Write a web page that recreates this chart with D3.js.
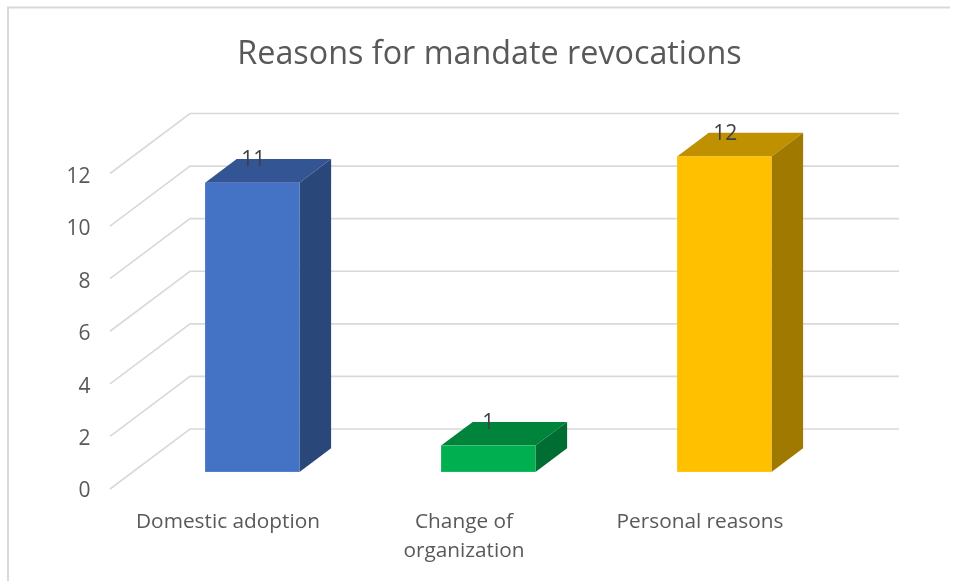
<!DOCTYPE html>
<html><head><meta charset="utf-8">
<script src="https://cdn.jsdelivr.net/npm/d3@7/dist/d3.min.js"></script>
<style>html,body{margin:0;padding:0;background:#fff}svg{display:block;filter:blur(0.45px)}text{font-family:"Open Sans",sans-serif}</style>
</head><body><svg id="c" width="957" height="581"></svg>
<script>
const title = "Reasons for mandate revocations";
const categories = ["Domestic adoption", "Change of organization", "Personal reasons"];
const categoryLines = [["Domestic adoption"], ["Change of", "organization"], ["Personal reasons"]];
const values = [11, 1, 12];
const frontColors = ["#4472c4", "#00b050", "#ffc000"];
const topColors = ["#335593", "#00843c", "#bf9000"];
const sideColors = ["#2a4779", "#006e32", "#a07a00"];
const yTicks = [0, 2, 4, 6, 8, 10, 12];

const svg = d3.select("#c");
// oblique projection: floor front edge to back wall
const depthX = 80, depthY = -60;
const x = d3.scaleBand().domain(categories).range([111.5, 819.5]).paddingInner(0.6).paddingOuter(0.3);
const band = d3.scaleBand().domain(categories).range([110, 818]).padding(0);
const y = d3.scaleLinear().domain([0, 12]).range([489, 173.5]);
const rightEnd = 899;

svg.append("path").attr("d", "M8,581V7.5H950").attr("fill", "none").attr("stroke", "#d9d9d9").attr("stroke-width", 2);

svg.append("text").attr("x", 489.5).attr("y", 63.5).attr("text-anchor", "middle")
  .attr("font-size", 32.3).attr("fill", "#595959").text(title);

const grid = svg.append("g").attr("fill", "none").attr("stroke", "#d9d9d9").attr("stroke-width", 1.6);
grid.selectAll("path").data(yTicks).join("path")
  .attr("d", d => `M${110},${y(d)}L${110 + depthX},${y(d) + depthY}H${rightEnd}`);

svg.append("g").selectAll("text").data(yTicks).join("text")
  .attr("x", 90.5).attr("y", d => y(d) + (d === 0 ? 7.5 : 9)).attr("text-anchor", "end")
  .attr("font-size", 21).attr("fill", "#595959").text(d => d);

const t0 = 0.285, t1 = 0.68;
const bars = svg.append("g").selectAll("g").data(categories).join("g");
bars.each(function (c, i) {
  const g = d3.select(this), v = values[i];
  const xl = x(c) + t0 * depthX, xr = xl + x.bandwidth();
  const yb = y(0) + t0 * depthY, yt = y(v) + t0 * depthY;
  const dx = (t1 - t0) * depthX, dy = (t1 - t0) * depthY;
  g.append("path").attr("fill", topColors[i])
    .attr("d", `M${xl},${yt}L${xl + dx},${yt + dy}H${xr + dx}L${xr},${yt}Z`);
  g.append("path").attr("fill", sideColors[i])
    .attr("d", `M${xr},${yt}L${xr + dx},${yt + dy}V${yb + dy}L${xr},${yb}Z`);
  g.append("rect").attr("fill", frontColors[i]).attr("x", xl).attr("y", yt).attr("width", x.bandwidth()).attr("height", yb - yt);
  g.append("text").attr("x", (xl + xr) / 2 + (v === 1 ? 0 : 1)).attr("y", yt + dy + 7.5).attr("text-anchor", "middle")
    .attr("font-size", 21).attr("fill", "#404040").text(v);
});

svg.append("g").selectAll("text").data(categories).join("text")
  .attr("text-anchor", "middle").attr("font-size", 20.8).attr("fill", "#595959")
  .each(function (c, i) {
    d3.select(this).selectAll("tspan").data(categoryLines[i]).join("tspan")
      .attr("x", band(c) + band.bandwidth() / 2).attr("y", (d, j) => 528 + j * 29).text(d => d);
  });
</script></body></html>
